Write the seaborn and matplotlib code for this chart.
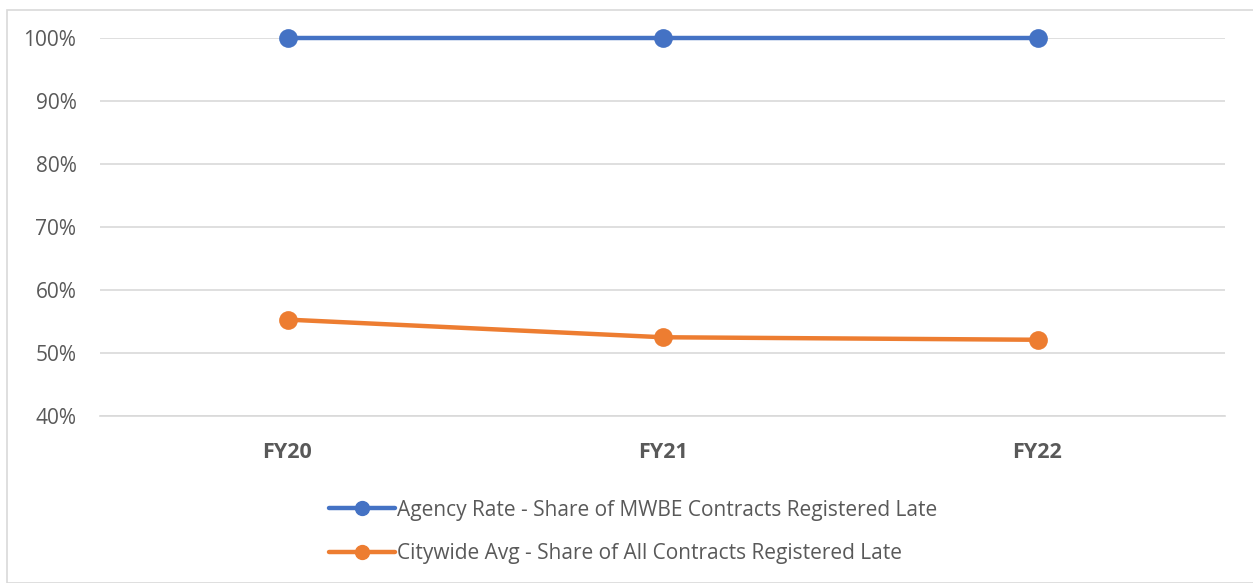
import matplotlib
matplotlib.use("Agg")
import matplotlib.pyplot as plt
import pandas as pd
import seaborn as sns
from matplotlib.patches import Rectangle
from matplotlib.ticker import FuncFormatter

years = ["FY20", "FY21", "FY22"]
agency_rate = [100.0, 100.0, 100.0]
citywide_avg = [55.3, 52.5, 52.1]
series_names = ["Agency Rate - Share of MWBE Contracts Registered Late",
                "Citywide Avg - Share of All Contracts Registered Late"]
colors = ["#4472C4", "#ED7D31"]

df = pd.DataFrame({
    "year": years * 2,
    "pos": list(range(len(years))) * 2,
    "value": agency_rate + citywide_avg,
    "series": [series_names[0]] * 3 + [series_names[1]] * 3,
})

sns.set_style("white")
plt.rcParams["font.family"] = ["Open Sans", "DejaVu Sans"]

fig = plt.figure(figsize=(12.53, 5.83), dpi=100)
ax = fig.add_axes([100 / 1253, 1 - 416 / 583, 1125 / 1253, 378 / 583])

sns.lineplot(data=df, x="pos", y="value", hue="series", palette=colors,
             marker="o", markersize=13.5, markeredgewidth=0, linewidth=3.2,
             ax=ax, legend=False, zorder=3)
for ln in ax.lines:
    ln.set_clip_on(False)

ax.set_xlim(-0.5, 2.5)
ax.set_ylim(40, 100)
ax.set_yticks(range(40, 101, 10))
ax.yaxis.set_major_formatter(FuncFormatter(lambda v, p: f"{v:.0f}%"))
ax.set_xticks(range(len(years)))
ax.set_xticklabels(years, fontweight="bold")
ax.set_xlabel("")
ax.set_ylabel("")
ax.grid(axis="y", color="#D9D9D9", linewidth=1.2)
ax.set_axisbelow(True)
for s in ["top", "right", "left"]:
    ax.spines[s].set_visible(False)
ax.spines["bottom"].set_color("#D9D9D9")
ax.spines["bottom"].set_linewidth(1.2)
ax.tick_params(axis="y", colors="#595959", labelsize=15, length=0, pad=17)
ax.tick_params(axis="x", colors="#595959", labelsize=15.5, length=0, pad=19)

handles = [plt.Line2D([], [], color=c, marker="o", markersize=10, linewidth=3.2)
           for c in colors]
fig.legend(handles, series_names, loc="center", bbox_to_anchor=(633 / 1253, 1 - 532 / 583),
           frameon=False, ncol=1, fontsize=15, handlelength=3.2, handletextpad=0.1,
           labelspacing=1.1, labelcolor="#595959")

fig.patches.append(Rectangle((7 / 1253, 0), 1250 / 1253, 1 - 10 / 583,
                             transform=fig.transFigure, fill=False,
                             edgecolor="#D9D9D9", linewidth=1.2))

fig.savefig("out.png", dpi=100, facecolor="white")
